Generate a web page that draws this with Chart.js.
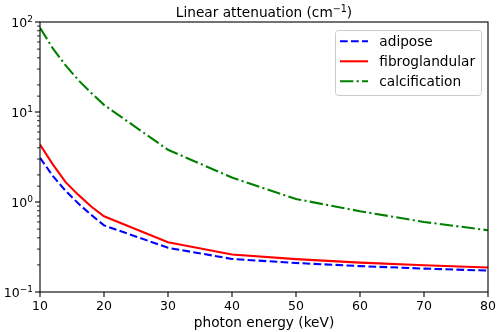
<!DOCTYPE html>
<html>
<head>
<meta charset="utf-8">
<script src="https://cdn.jsdelivr.net/npm/chart.js@4/dist/chart.umd.min.js"></script>
<style>
  html, body { margin: 0; padding: 0; background: #fff; }
  #wrap { width: 498px; height: 332px; }
</style>
</head>
<body>
<div id="wrap"><canvas id="c" width="498" height="332"></canvas></div>
<script>
// ---- data ----
const energies = [10, 12, 14, 16, 18, 20, 30, 40, 50, 60, 70, 80];
const adipose = [3.1, 1.95, 1.33, 0.96, 0.72, 0.55, 0.31, 0.233, 0.21, 0.194, 0.182, 0.173];
const fibroglandular = [4.35, 2.62, 1.66, 1.2, 0.89, 0.695, 0.357, 0.261, 0.232, 0.212, 0.198, 0.187];
const calcification = [86, 51, 33, 22.6, 16.3, 12.0, 3.8, 1.87, 1.08, 0.79, 0.6, 0.486];
const seriesNames = ['adipose', 'fibroglandular', 'calcification'];
const xTicks = [10, 20, 30, 40, 50, 60, 70, 80];
const yMajorTicks = [0.1, 1, 10, 100];
const yTickExponents = ['\u22121', '0', '1', '2'];
const titleMain = 'Linear attenuation (cm';
const titleSup = '\u22121';
const titleEnd = ')';
const xLabel = 'photon energy (keV)';

const FONT = '"DejaVu Sans", "Liberation Sans", sans-serif';
const LW = 2.08;

function pts(ys) { return energies.map((x, i) => ({ x: x, y: ys[i] })); }

const styles = [
  { color: '#0000ff', dash: [7.7, 3.3] },
  { color: '#ff0000', dash: [] },
  { color: '#008000', dash: [13.3, 3.3, 2.1, 3.3] }
];

const decor = {
  id: 'decor',
  afterDraw(chart) {
    const ctx = chart.ctx;
    const a = chart.chartArea;
    const xs = chart.scales.x, ys = chart.scales.y;
    ctx.save();
    // frame
    ctx.strokeStyle = '#000';
    ctx.lineWidth = 1.1;
    ctx.setLineDash([]);
    ctx.strokeRect(a.left, a.top, a.right - a.left, a.bottom - a.top);

    // x ticks + labels
    ctx.fillStyle = '#000';
    ctx.font = '12.5px ' + FONT;
    ctx.textAlign = 'center';
    ctx.textBaseline = 'alphabetic';
    xTicks.forEach(v => {
      const px = xs.getPixelForValue(v);
      ctx.lineWidth = 1.1;
      ctx.beginPath(); ctx.moveTo(px, a.bottom); ctx.lineTo(px, a.bottom + 5); ctx.stroke();
      ctx.fillText(String(v), px, 310);
    });

    // y minor ticks
    ys.ticks.forEach(t => {
      const v = t.value;
      const lg = Math.log10(v);
      if (Math.abs(lg - Math.round(lg)) < 1e-6) return;
      if (v < ys.min || v > ys.max) return;
      const py = ys.getPixelForValue(v);
      ctx.lineWidth = 0.83;
      ctx.beginPath(); ctx.moveTo(a.left - 3, py); ctx.lineTo(a.left, py); ctx.stroke();
    });
    // y major ticks + labels
    yMajorTicks.forEach((v, i) => {
      const py = ys.getPixelForValue(v);
      ctx.lineWidth = 1.1;
      ctx.beginPath(); ctx.moveTo(a.left - 5, py); ctx.lineTo(a.left, py); ctx.stroke();
      const right = a.left - 7;
      ctx.font = '9px ' + FONT;
      const sw = ctx.measureText(yTickExponents[i]).width;
      ctx.textAlign = 'left';
      ctx.fillText(yTickExponents[i], right - sw, py + 0.3);
      ctx.font = '12.5px ' + FONT;
      const mw = ctx.measureText('10').width;
      ctx.fillText('10', right - sw - mw, py + 4.8);
    });

    // title
    ctx.font = '13.7px ' + FONT;
    const w1 = ctx.measureText(titleMain).width;
    const w3 = ctx.measureText(titleEnd).width;
    ctx.font = '9.6px ' + FONT;
    const w2 = ctx.measureText(titleSup).width;
    const cx = (a.left + a.right) / 2;
    let tx = cx - (w1 + w2 + w3) / 2;
    ctx.textAlign = 'left';
    ctx.font = '13.7px ' + FONT;
    ctx.fillText(titleMain, tx, 16.7);
    ctx.font = '9.6px ' + FONT;
    ctx.fillText(titleSup, tx + w1, 11.5);
    ctx.font = '13.7px ' + FONT;
    ctx.fillText(titleEnd, tx + w1 + w2, 16.7);

    // x label
    ctx.textAlign = 'center';
    ctx.fillText(xLabel, cx, 327);

    // legend
    const lx = 335.5, ly = 30.5, lw = 146, lh = 65, r = 3;
    ctx.beginPath();
    ctx.moveTo(lx + r, ly);
    ctx.arcTo(lx + lw, ly, lx + lw, ly + lh, r);
    ctx.arcTo(lx + lw, ly + lh, lx, ly + lh, r);
    ctx.arcTo(lx, ly + lh, lx, ly, r);
    ctx.arcTo(lx, ly, lx + lw, ly, r);
    ctx.closePath();
    ctx.fillStyle = 'rgba(255,255,255,0.8)';
    ctx.fill();
    ctx.strokeStyle = '#cccccc';
    ctx.lineWidth = 1;
    ctx.stroke();
    chart.data.datasets.forEach((ds, i) => {
      const yy = 41.3 + i * 20;
      ctx.strokeStyle = ds.borderColor;
      ctx.lineWidth = LW;
      ctx.setLineDash(ds.borderDash || []);
      ctx.lineCap = 'butt';
      ctx.beginPath(); ctx.moveTo(340, yy); ctx.lineTo(368, yy); ctx.stroke();
      ctx.setLineDash([]);
      ctx.fillStyle = '#000';
      ctx.font = '13.7px ' + FONT;
      ctx.textAlign = 'left';
      ctx.fillText(ds.label, 379.3, yy + 5);
    });
    ctx.restore();
  }
};

new Chart(document.getElementById('c'), {
  type: 'line',
  data: {
    datasets: [adipose, fibroglandular, calcification].map((arr, i) => ({
      label: seriesNames[i],
      data: pts(arr),
      borderColor: styles[i].color,
      backgroundColor: styles[i].color,
      borderDash: styles[i].dash,
      borderWidth: LW,
      borderCapStyle: 'butt',
      pointRadius: 0,
      tension: 0,
      fill: false
    }))
  },
  options: {
    responsive: false,
    animation: false,
    devicePixelRatio: 1,
    layout: { padding: { top: 22, right: 10, left: 0, bottom: 0 } },
    plugins: { legend: { display: false }, title: { display: false }, tooltip: { enabled: false } },
    scales: {
      x: {
        type: 'linear', min: 10, max: 80,
        ticks: { display: false, stepSize: 10 },
        grid: { display: false },
        border: { display: false },
        afterFit(s) { s.height = 40; }
      },
      y: {
        type: 'logarithmic', min: 0.1, max: 100,
        ticks: { display: false },
        grid: { display: false },
        border: { display: false },
        afterFit(s) { s.width = 40; }
      }
    }
  },
  plugins: [decor]
});
</script>
</body>
</html>
